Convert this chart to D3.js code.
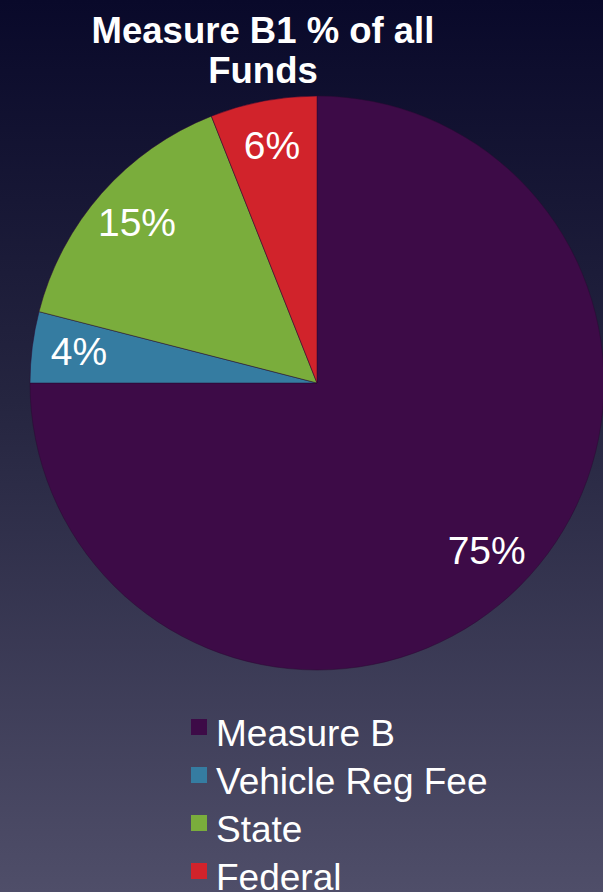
<!DOCTYPE html>
<html>
<head>
<meta charset="utf-8">
<script src="https://cdn.jsdelivr.net/npm/d3@7"></script>
<style>
  html, body { margin: 0; padding: 0; }
  body { width: 603px; height: 892px; overflow: hidden; }
  text { font-family: "Liberation Sans", Arial, Helvetica, sans-serif; }
</style>
</head>
<body>
<script>
// Data
var categories = ["Measure B", "Vehicle Reg Fee", "State", "Federal"];
var shares = [75, 4, 15, 6];
var colors = ["#3d0b47", "#357ca1", "#7aad3c", "#d1232b"];
var titleLines = ["Measure B1 % of all", "Funds"];

var width = 603,
    height = 892;

var svg = d3.select("body")
    .append("svg")
    .attr("width", width)
    .attr("height", height);

// Background gradient
var defs = svg.append("defs");
var grad = defs.append("linearGradient")
    .attr("id", "bg")
    .attr("x1", 0).attr("y1", 0)
    .attr("x2", 0).attr("y2", 1);
grad.append("stop").attr("offset", "0%").attr("stop-color", "#09092a");
grad.append("stop").attr("offset", "45%").attr("stop-color", "#252540");
grad.append("stop").attr("offset", "100%").attr("stop-color", "#4f4e69");

svg.append("rect")
    .attr("width", width)
    .attr("height", height)
    .attr("fill", "url(#bg)");

// Title
svg.append("text")
    .attr("x", 263)
    .attr("y", 43)
    .attr("text-anchor", "middle")
    .attr("fill", "#fff")
    .attr("font-size", 36.5)
    .attr("font-weight", "bold")
    .selectAll("tspan")
    .data(titleLines)
    .enter()
    .append("tspan")
    .attr("x", 263)
    .attr("dy", function(d, i) { return i === 0 ? 0 : 40; })
    .text(function(d) { return d; });

// Pie
var cx = 317, cy = 383, radius = 287;

var pie = d3.pie().sort(null).value(function(d) { return d; });
var arc = d3.arc().innerRadius(0).outerRadius(radius);
var labelArc = d3.arc().innerRadius(240).outerRadius(240);
var color = d3.scaleOrdinal().domain(categories).range(colors);

var g = svg.append("g").attr("transform", "translate(" + cx + "," + cy + ")");

var arcs = pie(shares);

g.selectAll("path")
    .data(arcs)
    .enter()
    .append("path")
    .attr("d", arc)
    .attr("fill", function(d, i) { return color(categories[i]); })
    .attr("stroke", "#2a0a33")
    .attr("stroke-width", 0.5);

g.selectAll(".label")
    .data(arcs)
    .enter()
    .append("text")
    .attr("class", "label")
    .attr("transform", function(d) { return "translate(" + labelArc.centroid(d) + ")"; })
    .attr("dy", "0.3em")
    .attr("text-anchor", "middle")
    .attr("fill", "#fff")
    .attr("font-size", 39)
    .text(function(d) { return d.value + "%"; });

// Legend
var legend = svg.append("g").attr("transform", "translate(191,719)");
var rows = legend.selectAll("g")
    .data(categories)
    .enter()
    .append("g")
    .attr("transform", function(d, i) { return "translate(0," + i * 48 + ")"; });

rows.append("rect")
    .attr("width", 16)
    .attr("height", 16)
    .attr("fill", function(d) { return color(d); });

rows.append("text")
    .attr("x", 25)
    .attr("y", 27)
    .attr("fill", "#fff")
    .attr("font-size", 37)
    .text(function(d) { return d; });
</script>
</body>
</html>
